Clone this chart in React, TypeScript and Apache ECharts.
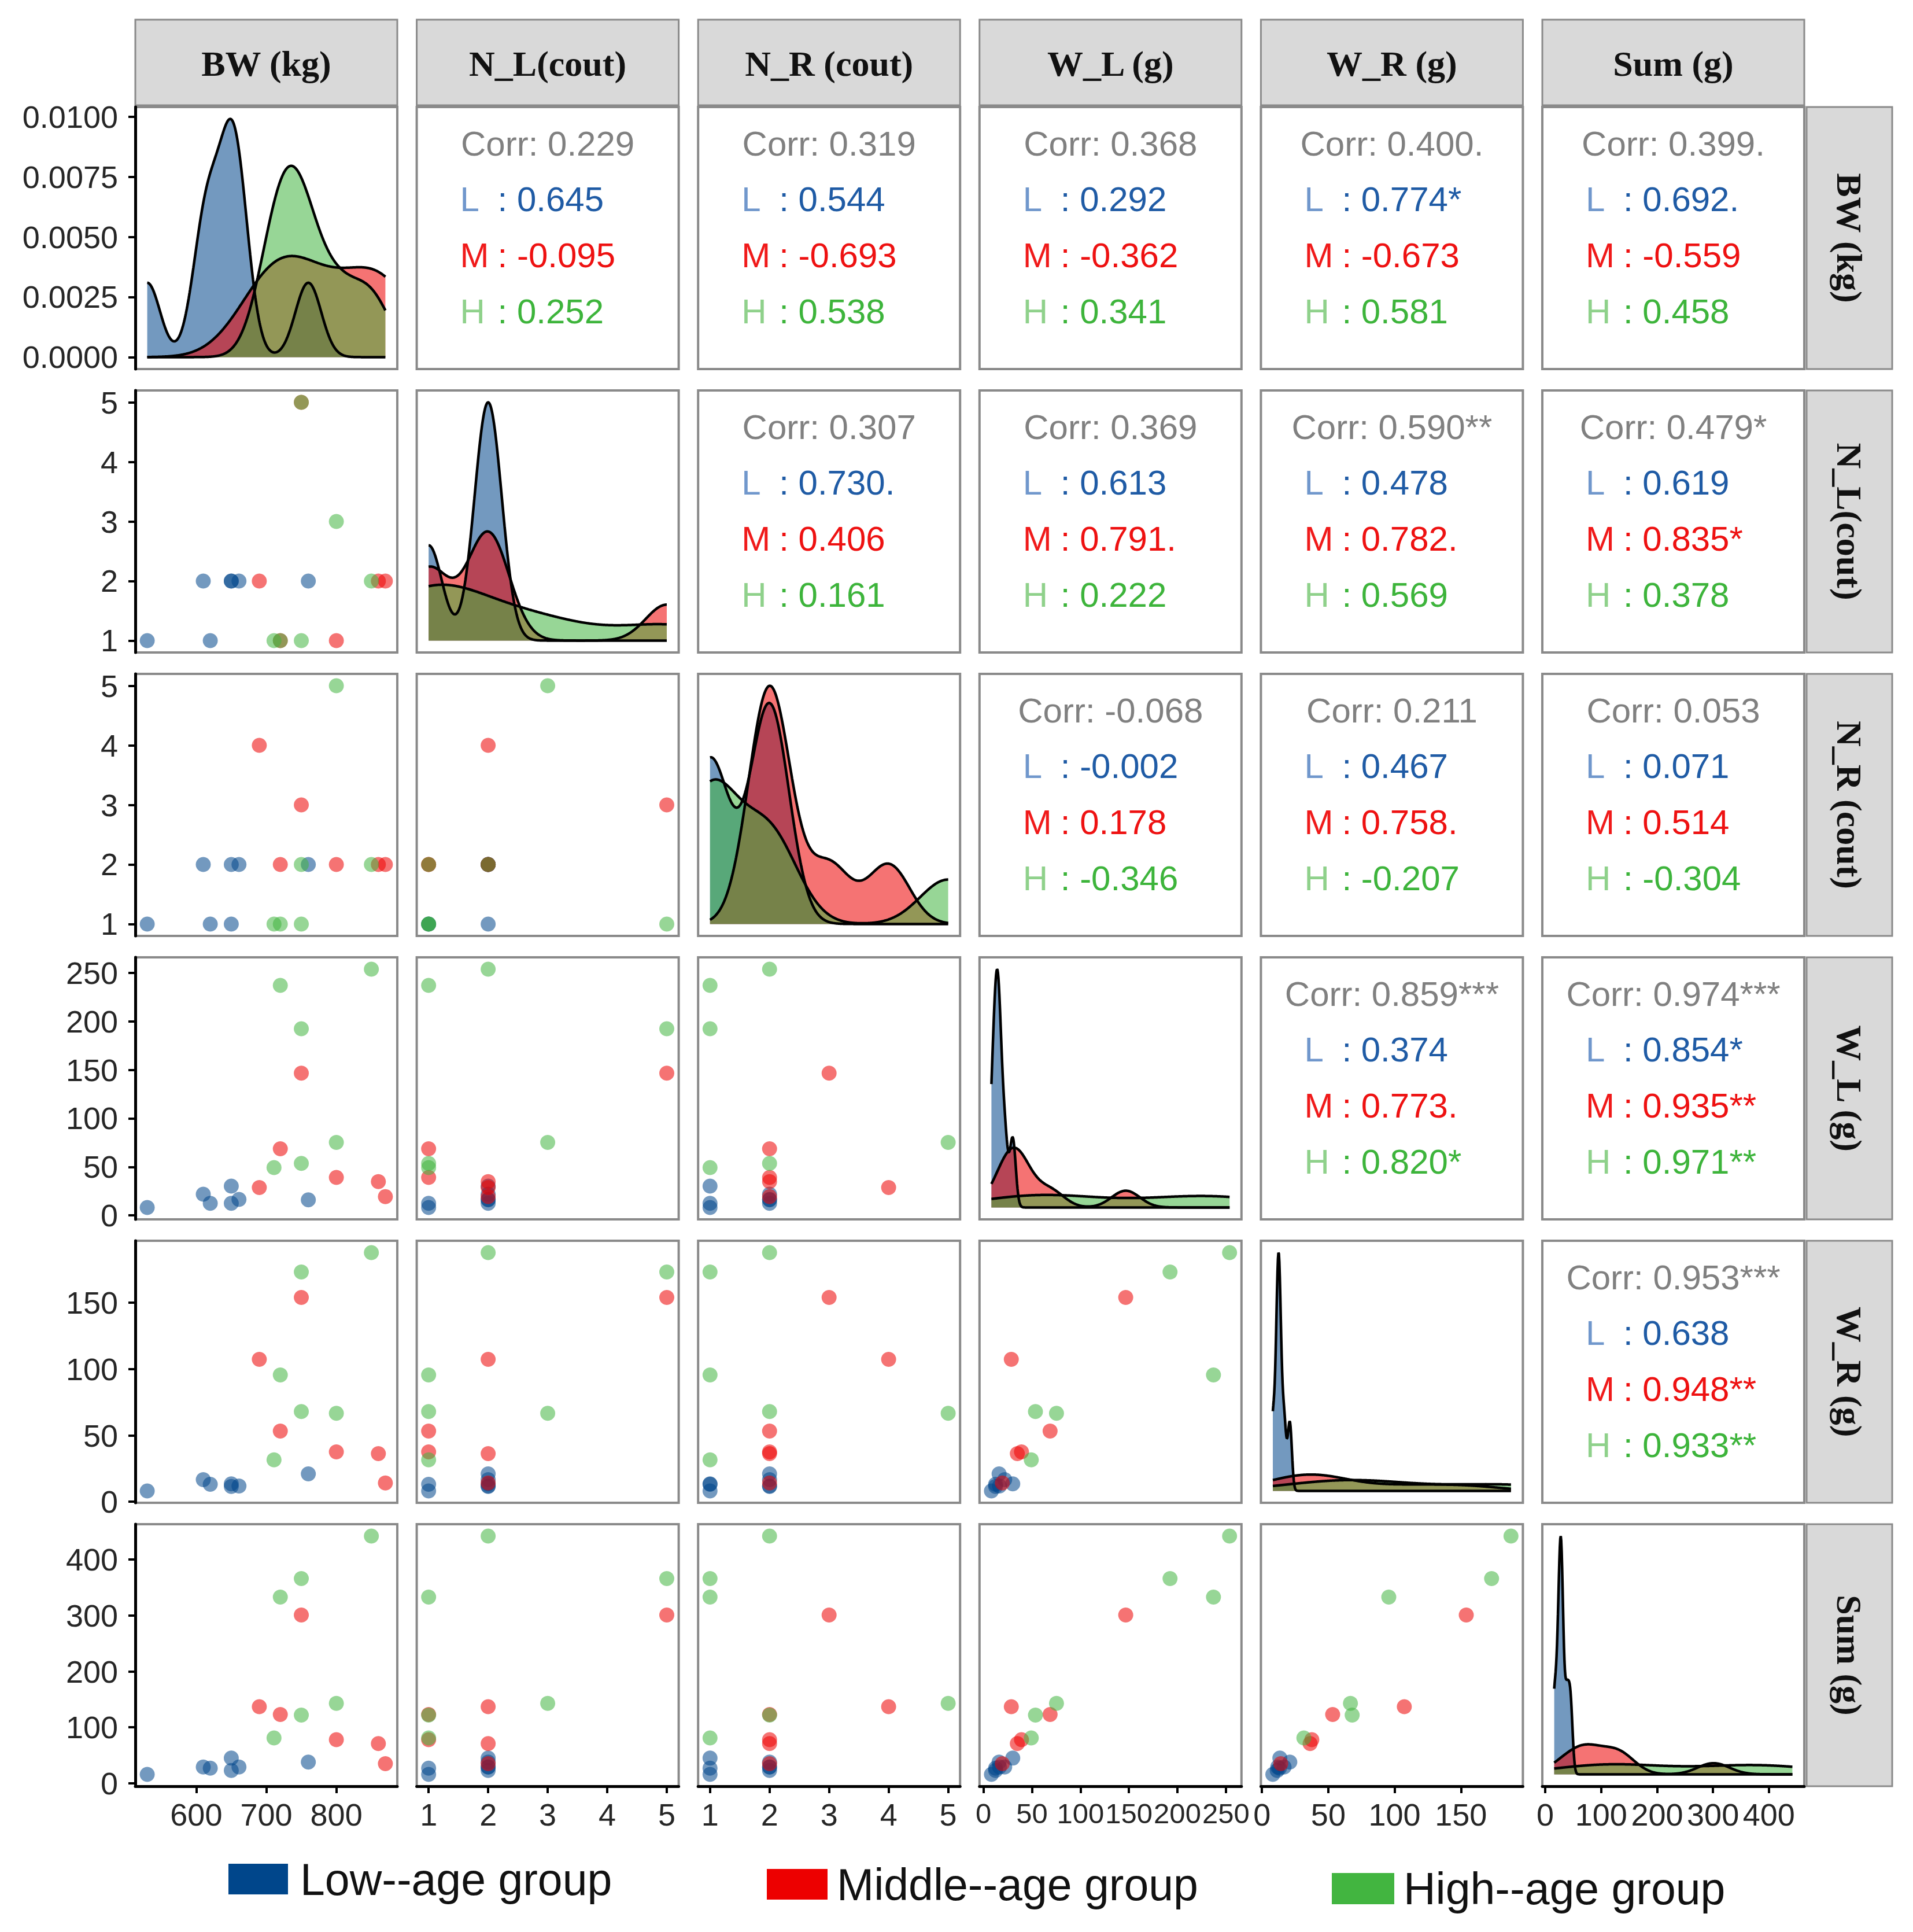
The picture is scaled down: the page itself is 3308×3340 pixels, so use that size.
import React, { useEffect, useRef } from "react";
import * as echarts from "echarts";

// ---------- data ----------
const VARIABLES = ["BW (kg)", "N_L(cout)", "N_R (cout)", "W_L (g)", "W_R (g)", "Sum (g)"];
const GROUPS = ["Low--age group", "Middle--age group", "High--age group"];
const GROUP_LETTERS = ["L", "M", "H"];

const BW_LOW = [530, 610, 620, 650, 650, 661, 760];
const NL_LOW = [1, 2, 1, 2, 2, 2, 2];
const NR_LOW = [1, 2, 1, 1, 2, 2, 2];
const WL_LOW = [8.2, 21.9, 12.5, 30.2, 12.5, 16.5, 16.1];
const WR_LOW = [8.2, 16.7, 13.2, 13.5, 11.5, 11.9, 21.0];
const SUM_LOW = [16, 29, 27, 45, 23, 29, 38];

const BW_MID = [690, 720, 750, 800, 860, 870];
const NL_MID = [2, 1, 5, 1, 2, 2];
const NR_MID = [4, 2, 3, 2, 2, 2];
const WL_MID = [28.7, 68.7, 146.7, 39.2, 34.9, 19.4];
const WR_MID = [107.3, 53.3, 154, 37.6, 36.3, 14.2];
const SUM_MID = [137, 123, 301, 78, 71, 35];

const BW_HIGH = [711, 720, 750, 750, 800, 850];
const NL_HIGH = [1, 1, 5, 1, 3, 2];
const NR_HIGH = [1, 1, 1, 2, 5, 2];
const WL_HIGH = [49.3, 237.2, 192.4, 53.6, 75.3, 253.8];
const WR_HIGH = [31.6, 95.6, 173.1, 68, 66.7, 187.7];
const SUM_HIGH = [81, 333, 366, 122, 143, 442];

const AXIS_TICKS = [
  [600, 700, 800],
  [1, 2, 3, 4, 5],
  [1, 2, 3, 4, 5],
  [0, 50, 100, 150, 200, 250],
  [0, 50, 100, 150],
  [0, 100, 200, 300, 400],
];
const DENSITY_TICKS = [0, 0.0025, 0.005, 0.0075, 0.01];

// upper-triangle correlation labels, pairs in order (row, col)
const CORR_PAIRS = [[0, 1], [0, 2], [0, 3], [0, 4], [0, 5], [1, 2], [1, 3], [1, 4], [1, 5], [2, 3], [2, 4], [2, 5], [3, 4], [3, 5], [4, 5]];
const CORR_TOTAL = ["0.229", "0.319", "0.368", "0.400.", "0.399.", "0.307", "0.369", "0.590**", "0.479*", "-0.068", "0.211", "0.053", "0.859***", "0.974***", "0.953***"];
const CORR_LOW = ["0.645", "0.544", "0.292", "0.774*", "0.692.", "0.730.", "0.613", "0.478", "0.619", "-0.002", "0.467", "0.071", "0.374", "0.854*", "0.638"];
const CORR_MID = ["-0.095", "-0.693", "-0.362", "-0.673", "-0.559", "0.406", "0.791.", "0.782.", "0.835*", "0.178", "0.758.", "0.514", "0.773.", "0.935**", "0.948**"];
const CORR_HIGH = ["0.252", "0.538", "0.341", "0.581", "0.458", "0.161", "0.222", "0.569", "0.378", "-0.346", "-0.207", "-0.304", "0.820*", "0.971**", "0.933**"];

// ---------- styling / layout ----------
const GROUP_RGB = [[0, 70, 139], [237, 0, 0], [66, 181, 64]];
const GROUP_SOLID = ["#00468B", "#ED0000", "#42B540"];
const LETTER_COLORS = ["#7097cc", "#f01a1a", "#8fd18b"];
const VALUE_COLORS = ["#1f5ba5", "#ee1111", "#3db43b"];
const AREA_ALPHA = 0.55;
const POINT_ALPHA = 0.55;
const SANS = '"Liberation Sans", Arial, sans-serif';
const SERIF = '"Liberation Serif", "Times New Roman", serif';

const W = 3308;
const H = 3340;
const COL_X0 = 234;
const COL_PITCH = 486.6;
const ROW_Y0 = 185;
const ROW_PITCH = 490;
const PW = 453;
const PH = 453;

const rgba = (g: number, a: number) => `rgba(${GROUP_RGB[g][0]},${GROUP_RGB[g][1]},${GROUP_RGB[g][2]},${a})`;

function quantile7(sorted: number[], p: number) {
  const h = (sorted.length - 1) * p;
  const lo = Math.floor(h);
  const hi = Math.ceil(h);
  return sorted[lo] + (h - lo) * (sorted[hi] - sorted[lo]);
}
function bwNrd0(x: number[]) {
  const n = x.length;
  const mean = x.reduce((a, b) => a + b, 0) / n;
  const sd = Math.sqrt(x.reduce((a, b) => a + (b - mean) * (b - mean), 0) / (n - 1));
  const s = [...x].sort((a, b) => a - b);
  const iqr = quantile7(s, 0.75) - quantile7(s, 0.25);
  let lo = Math.min(sd, iqr / 1.34);
  if (!(lo > 0)) lo = sd || Math.abs(x[0]) || 1;
  return 0.9 * lo * Math.pow(n, -0.2);
}
// Gaussian kernel density of the read values (what geom_density draws)
function kde(x: number[], from: number, to: number, n = 512) {
  const bw = bwNrd0(x);
  const out: number[][] = [];
  const c = 1 / (x.length * bw * Math.sqrt(2 * Math.PI));
  for (let i = 0; i < n; i++) {
    const t = from + ((to - from) * i) / (n - 1);
    let s = 0;
    for (const xi of x) {
      const z = (t - xi) / bw;
      s += Math.exp(-0.5 * z * z);
    }
    out.push([t, s * c]);
  }
  return out;
}

function buildOption() {
  const VAR_DATA = [
    [BW_LOW, BW_MID, BW_HIGH],
    [NL_LOW, NL_MID, NL_HIGH],
    [NR_LOW, NR_MID, NR_HIGH],
    [WL_LOW, WL_MID, WL_HIGH],
    [WR_LOW, WR_MID, WR_HIGH],
    [SUM_LOW, SUM_MID, SUM_HIGH],
  ];
  const ranges = VAR_DATA.map((gs) => {
    const all = gs.flat();
    const mn = Math.min(...all);
    const mx = Math.max(...all);
    return { mn, mx, lo: mn - 0.05 * (mx - mn), hi: mx + 0.05 * (mx - mn) };
  });

  const grids: any[] = [];
  const xAxes: any[] = [];
  const yAxes: any[] = [];
  const series: any[] = [];
  const graphic: any[] = [];

  const labelStyle = {
    fontSize: 54, fontFamily: SANS, color: "#262626",
    hideOverlap: false, showMinLabel: true, showMaxLabel: true,
  };
  // the W_L column has tightly packed labels; a slightly smaller size keeps all six
  const X_LABEL_SIZE = [54, 54, 54, 49, 54, 54];
  const left = (c: number) => COL_X0 + c * COL_PITCH;
  const top = (r: number) => ROW_Y0 + r * ROW_PITCH;

  for (let r = 0; r < 6; r++) {
    for (let c = 0; c <= r; c++) {
      const g = grids.length;
      grids.push({
        left: left(c), top: top(r), width: PW, height: PH,
        show: true, borderColor: "#8a8a8a", borderWidth: 4, backgroundColor: "#ffffff",
      });
      const showX = r === 5;
      const showY = c === 0;
      xAxes.push({
        type: "value", gridIndex: g, min: ranges[c].lo, max: ranges[c].hi,
        axisLine: { show: showX, onZero: false, lineStyle: { color: "#000", width: 5 } },
        axisTick: { show: showX, length: 12, lineStyle: { color: "#000", width: 4 }, customValues: AXIS_TICKS[c] },
        axisLabel: { show: showX, customValues: AXIS_TICKS[c], margin: 22, ...labelStyle, fontSize: X_LABEL_SIZE[c] },
        splitLine: { show: false },
      });
      if (r === c) {
        let maxD = 0;
        const dens = VAR_DATA[c].map((arr) => {
          const d = kde(arr, ranges[c].mn, ranges[c].mx);
          for (const p of d) maxD = Math.max(maxD, p[1]);
          return d;
        });
        yAxes.push({
          type: "value", gridIndex: g, min: -0.05 * maxD, max: 1.05 * maxD,
          axisLine: { show: showY, onZero: false, lineStyle: { color: "#000", width: 5 } },
          axisTick: { show: showY, length: 12, lineStyle: { color: "#000", width: 4 }, customValues: DENSITY_TICKS },
          axisLabel: { show: showY, customValues: DENSITY_TICKS, margin: 30, formatter: (v: number) => v.toFixed(4), ...labelStyle },
          splitLine: { show: false },
        });
        dens.forEach((d, gi) => {
          series.push({
            type: "line", name: GROUPS[gi], xAxisIndex: g, yAxisIndex: g, data: d,
            showSymbol: false, symbol: "none", smooth: false,
            lineStyle: { color: "#000", width: 4.5 },
            areaStyle: { color: rgba(gi, AREA_ALPHA), opacity: 1, origin: "auto" },
            itemStyle: { color: GROUP_SOLID[gi] },
          });
        });
      } else {
        yAxes.push({
          type: "value", gridIndex: g, min: ranges[r].lo, max: ranges[r].hi,
          axisLine: { show: showY, onZero: false, lineStyle: { color: "#000", width: 5 } },
          axisTick: { show: showY, length: 12, lineStyle: { color: "#000", width: 4 }, customValues: AXIS_TICKS[r] },
          axisLabel: { show: showY, customValues: AXIS_TICKS[r], margin: 30, ...labelStyle },
          splitLine: { show: false },
        });
        for (let gi = 0; gi < 3; gi++) {
          const xs = VAR_DATA[c][gi];
          const ys = VAR_DATA[r][gi];
          series.push({
            type: "scatter", name: GROUPS[gi], xAxisIndex: g, yAxisIndex: g,
            symbol: "circle", symbolSize: 26,
            itemStyle: { color: rgba(gi, POINT_ALPHA), opacity: 1 },
            data: xs.map((v, i) => [v, ys[i]]),
          });
        }
      }
    }
  }

  // correlation panels
  CORR_PAIRS.forEach(([r, c], k) => {
    const x0 = left(c);
    const y0 = top(r);
    graphic.push({ type: "rect", shape: { x: x0, y: y0, width: PW, height: PH }, style: { fill: "#fff", stroke: "#8a8a8a", lineWidth: 4 } });
    graphic.push({
      type: "text", x: x0 + PW / 2, y: y0 + 63,
      style: { text: "Corr: " + CORR_TOTAL[k], font: `60px ${SANS}`, fill: "#808080", textAlign: "center", textVerticalAlign: "middle", align: "center", verticalAlign: "middle" },
    });
    const vals = [CORR_LOW[k], CORR_MID[k], CORR_HIGH[k]];
    for (let gi = 0; gi < 3; gi++) {
      const yy = y0 + 159 + gi * 97;
      graphic.push({
        type: "text", x: x0 + 75, y: yy,
        style: { text: GROUP_LETTERS[gi], font: `60px ${SANS}`, fill: LETTER_COLORS[gi], textAlign: "left", textVerticalAlign: "middle", align: "left", verticalAlign: "middle" },
      });
      graphic.push({
        type: "text", x: x0 + 140, y: yy,
        style: { text: ": " + vals[gi], font: `60px ${SANS}`, fill: VALUE_COLORS[gi], textAlign: "left", textVerticalAlign: "middle", align: "left", verticalAlign: "middle" },
      });
    }
  });

  // strips
  for (let i = 0; i < 6; i++) {
    graphic.push({ type: "rect", shape: { x: left(i), y: 34, width: PW, height: 148 }, style: { fill: "#d9d9d9", stroke: "#8a8a8a", lineWidth: 3 } });
    graphic.push({
      type: "text", x: left(i) + PW / 2, y: 110,
      style: { text: VARIABLES[i], font: `bold 62px ${SERIF}`, fill: "#111", textAlign: "center", textVerticalAlign: "middle", align: "center", verticalAlign: "middle" },
    });
    graphic.push({ type: "rect", shape: { x: 3124, y: top(i), width: 148, height: PH }, style: { fill: "#d9d9d9", stroke: "#8a8a8a", lineWidth: 3 } });
    graphic.push({
      type: "text", x: 3198, y: top(i) + PH / 2, rotation: -Math.PI / 2,
      style: { text: VARIABLES[i], font: `bold 62px ${SERIF}`, fill: "#111", textAlign: "center", textVerticalAlign: "middle", align: "center", verticalAlign: "middle" },
    });
  }

  // legend
  const LEG = [
    { x: 395, y: 3222, w: 103, h: 53, tx: 519 },
    { x: 1326, y: 3231, w: 105, h: 53, tx: 1447 },
    { x: 2303, y: 3238, w: 108, h: 54, tx: 2427 },
  ];
  LEG.forEach((l, gi) => {
    graphic.push({ type: "rect", shape: { x: l.x, y: l.y, width: l.w, height: l.h }, style: { fill: GROUP_SOLID[gi] } });
    graphic.push({
      type: "text", x: l.tx, y: l.y + l.h / 2,
      style: { text: GROUPS[gi], font: `77px ${SANS}`, fill: "#111", textAlign: "left", textVerticalAlign: "middle", align: "left", verticalAlign: "middle" },
    });
  });

  return {
    animation: false,
    backgroundColor: "#ffffff",
    grid: grids,
    xAxis: xAxes,
    yAxis: yAxes,
    series,
    graphic: { elements: graphic },
  };
}

export default function App() {
  const ref = useRef<HTMLDivElement | null>(null);
  useEffect(() => {
    document.body.style.margin = "0";
    if (!ref.current) return;
    const chart = echarts.init(ref.current, null, { renderer: "svg" });
    chart.setOption(buildOption() as any);
    return () => chart.dispose();
  }, []);
  return <div ref={ref} style={{ width: W, height: H }} />;
}
